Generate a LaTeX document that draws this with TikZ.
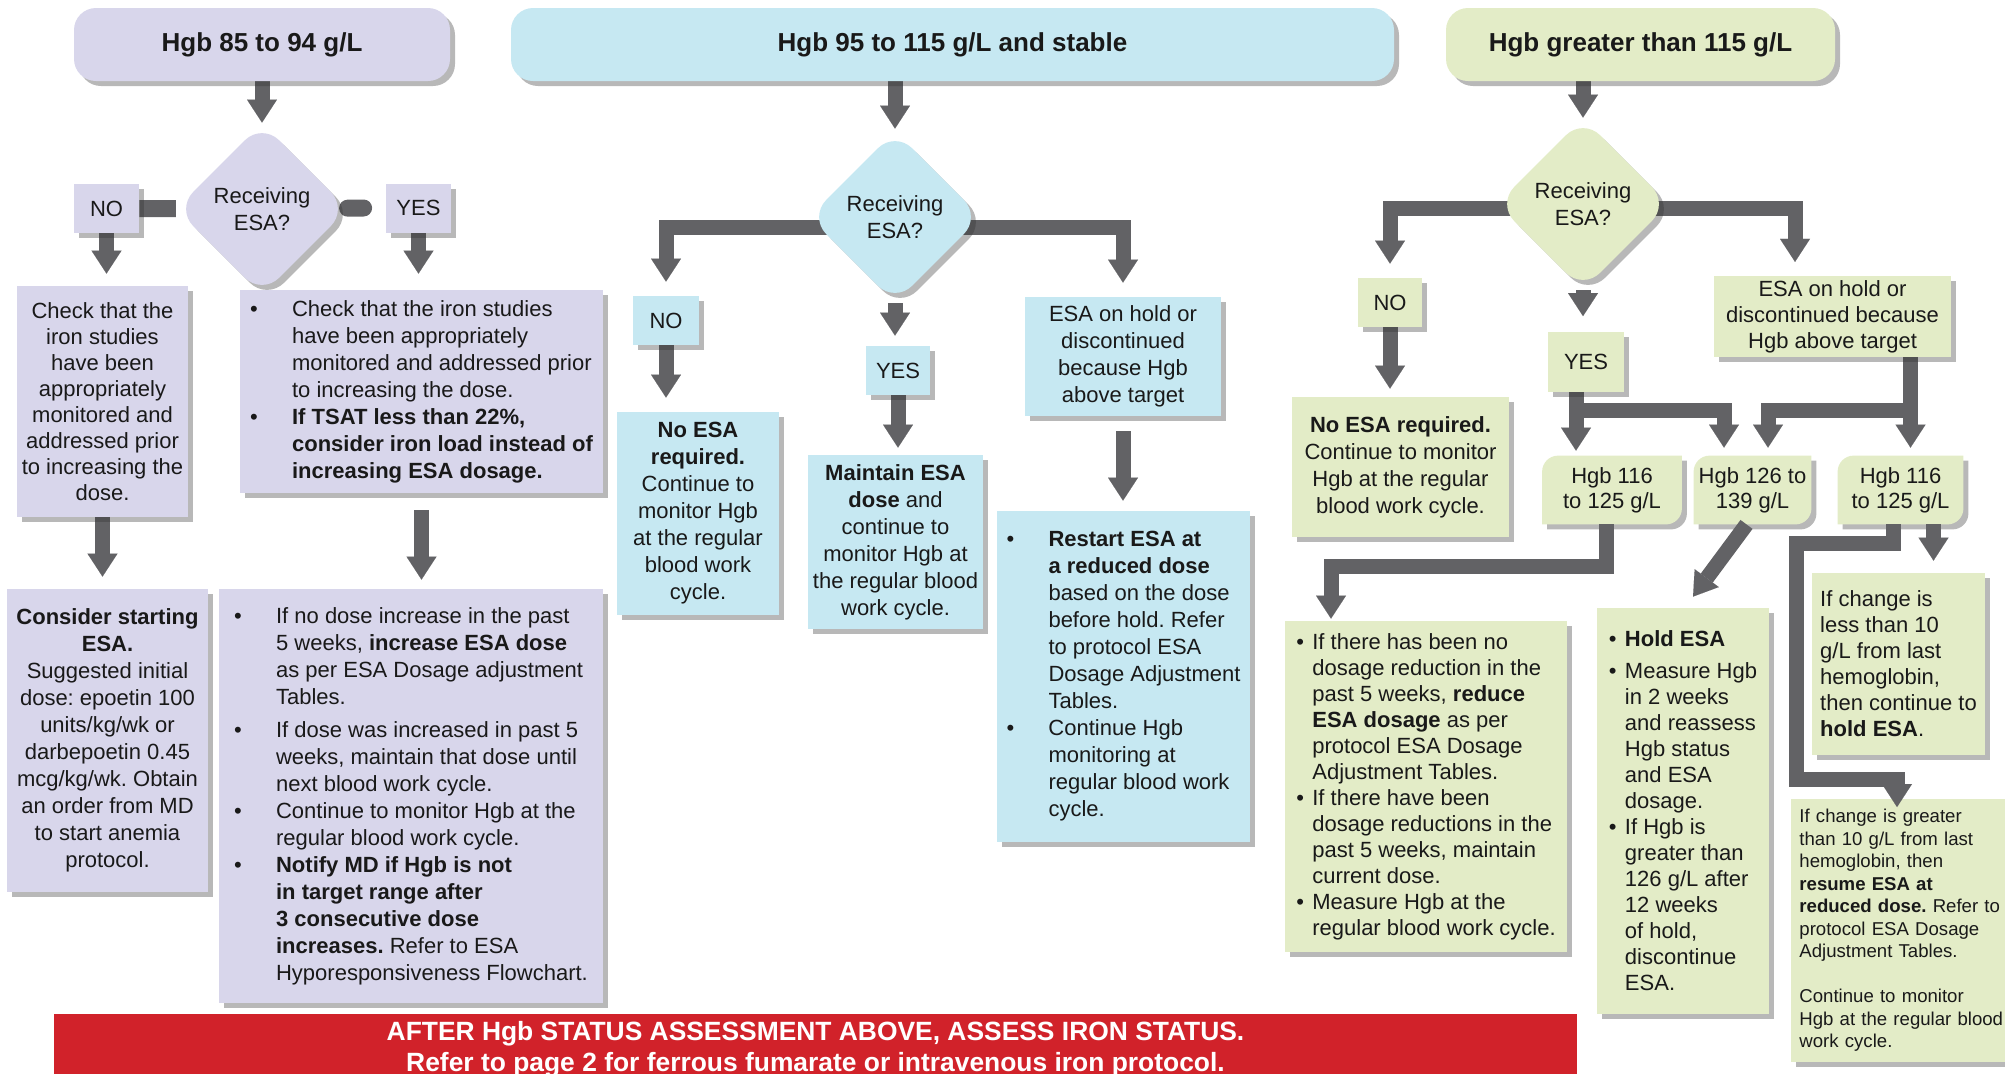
\documentclass[tikz,border=0pt]{standalone}
\usepackage{fontspec}
\setmainfont{Liberation Sans}
\usetikzlibrary{arrows.meta,shadows,backgrounds,shapes.geometric}
\frenchspacing

\definecolor{lav}{RGB}{216,214,235}
\definecolor{sky}{RGB}{198,232,242}
\definecolor{sage}{RGB}{227,236,199}
\definecolor{pipe}{RGB}{98,98,101}
\definecolor{alert}{RGB}{209,34,42}

\newcommand{\bigbul}{\makebox[21pt][l]{\textbullet}}
\newcommand{\bigind}{\hspace*{21pt}}
\newcommand{\smbul}{\makebox[8pt][l]{\textbullet}}
\newcommand{\smind}{\hspace*{8pt}}
\newcommand{\leafpath}[1]{([yshift=-8pt]#1.north west) arc[start angle=180, end angle=90, radius=8pt]
    -- (#1.north east) -- ([yshift=8pt]#1.south east) arc[start angle=0, end angle=-90, radius=8pt]
    -- (#1.south west) -- cycle}

\tikzset{
    shade/.style={drop shadow={shadow xshift=2.5pt, shadow yshift=-2.5pt, opacity=0.35, fill=black!80}},
    panel/.style={rectangle, inner sep=2pt, text=black!90, shade,
        font=\fontsize{11}{13.5}\selectfont},
    heading/.style={panel, rounded corners=11pt, minimum height=36.5pt,
        font=\bfseries\fontsize{13}{15}\selectfont},
    ask/.style={panel, diamond, aspect=1, minimum size=86pt, inner sep=0pt,
        rounded corners=12pt, align=center},
    choice/.style={panel, minimum height=24.5pt},
    hgbbox/.style={rectangle, inner sep=1pt, text=black!90, minimum height=34pt, align=center,
        font=\fontsize{11}{12.5}\selectfont},
    leaf/.style={fill=sage, shade},
    arr/.style={draw=pipe, line width=7.5pt,
        -{Triangle[width=15pt, length=11.5pt, line width=0.01pt]}},
    pipebar/.style={draw=pipe, line width=8.5pt}
}

\begin{document}
\begin{tikzpicture}[x=0.5pt, y=-0.5pt]
            \useasboundingbox (0, 0) rectangle (2005, 1073);
            \node[heading, fill=lav, minimum width=188pt] (t1) at (262, 44.5) {Hgb 85 to 94 g/L};
            \node[ask, fill=lav] (d1) at (262, 209) {Receiving\\ESA?};
            \node[choice, fill=lav, minimum width=32.5pt] (no1) at (106.5, 208.5) {NO};
            \node[choice, fill=lav, minimum width=32.5pt] (yes1) at (418.5, 208) {YES};
            \node[panel, fill=lav, minimum width=85.5pt, minimum height=115.5pt, align=center,
                font=\fontsize{11}{13}\selectfont] (a1) at (102.5, 401.5)
                {Check that the\\iron studies\\have been\\appropriately\\monitored and\\addressed prior\\to increasing the\\dose.};
            \node[panel, fill=lav, minimum width=181.5pt, minimum height=101.5pt, align=left] (b1) at (421.5, 391.5)
                {\bigbul Check that the iron studies\\
                 \bigind have been appropriately\\
                 \bigind monitored and addressed prior\\
                 \bigind to increasing the dose.\\
                 \bigbul \textbf{If TSAT less than 22\%,}\\
                 \bigind \textbf{consider iron load instead of}\\
                 \bigind \textbf{increasing ESA dosage.}};
            \node[panel, fill=lav, minimum width=100.5pt, minimum height=151.5pt, align=center] (c1) at (107.5, 740.5)
                {\textbf{Consider starting}\\\textbf{ESA.}\\Suggested initial\\dose: epoetin 100\\units/kg/wk or\\darbepoetin 0.45\\mcg/kg/wk. Obtain\\an order from MD\\to start anemia\\protocol.};
            \node[panel, fill=lav, minimum width=192pt, minimum height=207pt, align=left] (e1) at (411, 796)
                {\bigbul If no dose increase in the past\\
                 \bigind 5 weeks, \textbf{increase ESA dose}\\
                 \bigind as per ESA Dosage adjustment\\
                 \bigind Tables.\\[3pt]
                 \bigbul If dose was increased in past 5\\
                 \bigind weeks, maintain that dose until\\
                 \bigind next blood work cycle.\\
                 \bigbul Continue to monitor Hgb at the\\
                 \bigind regular blood work cycle.\\
                 \bigbul \textbf{Notify MD if Hgb is not}\\
                 \bigind \textbf{in target range after}\\
                 \bigind \textbf{3 consecutive dose}\\
                 \bigind \textbf{increases.} Refer to ESA\\
                 \bigind Hyporesponsiveness Flowchart.};
            \begin{pgfonlayer}{background}
                \draw[arr] (t1) -- (d1);
                \draw[pipebar] (no1) -- (d1);
                \draw[pipebar, line cap=round] (d1) -- ([xshift=-11pt]yes1.west);
                \draw[arr, shorten >=6pt] (no1) -- (no1 |- a1.north);
                \draw[arr, shorten >=8pt] (yes1) -- (yes1 |- b1.north);
                \draw[arr, shorten >=6pt] (a1) -- (a1 |- c1.north);
                \draw[arr, shorten <=8.5pt, shorten >=4.5pt] (b1) -- (b1 |- e1.north);
            \end{pgfonlayer}

            \node[heading, fill=sky, minimum width=441.5pt] (t2) at (952.5, 44.5) {Hgb 95 to 115 g/L and stable};
            \node[ask, fill=sky] (d2) at (895, 217) {Receiving\\ESA?};
            \node[choice, fill=sky, minimum width=33pt] (no2) at (666, 320.5) {NO};
            \node[choice, fill=sky, minimum width=32pt] (yes2) at (898, 370.5) {YES};
            \node[panel, fill=sky, minimum width=98pt, minimum height=59.5pt, align=center] (hold2) at (1123, 356.5)
                {ESA on hold or\\discontinued\\because Hgb\\above target};
            \node[panel, fill=sky, minimum width=81pt, minimum height=101.5pt, align=center] (noesa2) at (698, 513.5)
                {\textbf{No ESA}\\\textbf{required.}\\Continue to\\monitor Hgb\\at the regular\\blood work\\cycle.};
            \node[panel, fill=sky, minimum width=87.5pt, minimum height=87pt, align=center] (maint2) at (895.5, 542)
                {\textbf{Maintain ESA}\\\textbf{dose} and\\continue to\\monitor Hgb at\\the regular blood\\work cycle.};
            \node[panel, fill=sky, minimum width=126.5pt, minimum height=165.5pt, align=left] (rest2) at (1123.5, 676.5)
                {\bigbul \textbf{Restart ESA at}\\
                 \bigind \textbf{a reduced dose}\\
                 \bigind based on the dose\\
                 \bigind before hold. Refer\\
                 \bigind to protocol ESA\\
                 \bigind Dosage Adjustment\\
                 \bigind Tables.\\
                 \bigbul Continue Hgb\\
                 \bigind monitoring at\\
                 \bigind regular blood work\\
                 \bigind cycle.};
            \begin{pgfonlayer}{background}
                \draw[arr, shorten >=1pt] (d2.north |- t2.south) -- (d2);
                \draw[arr, shorten >=7pt] ([yshift=-5pt]d2.center) -| (no2.north);
                \draw[arr, shorten >=7pt] ([yshift=-5pt]d2.center) -| (hold2.north);
                \draw[arr, shorten >=5pt] (d2) -- (d2 |- yes2.north);
                \draw[arr, shorten >=7pt] (no2) -- (no2 |- noesa2.north);
                \draw[arr, shorten >=3.5pt] (yes2) -- (yes2 |- maint2.north);
                \draw[arr, shorten <=7.5pt, shorten >=5pt] (hold2) -- (hold2 |- rest2.north);
            \end{pgfonlayer}

            \node[heading, fill=sage, minimum width=194.5pt] (t3) at (1640.5, 44.5) {Hgb greater than 115 g/L};
            \node[ask, fill=sage] (d3) at (1583, 204) {Receiving\\ESA?};
            \node[choice, fill=sage, minimum width=32pt] (no3) at (1390, 302.5) {NO};
            \node[choice, fill=sage, minimum width=38pt, minimum height=30pt] (yes3) at (1586, 361.5) {YES};
            \node[panel, fill=sage, minimum width=118.5pt, minimum height=38.5pt, align=center,
                font=\fontsize{11}{13}\selectfont] (hold3) at (1832.5, 316.5)
                {ESA on hold or\\discontinued because\\Hgb above target};
            \node[panel, fill=sage, minimum width=108.5pt, minimum height=70pt, align=center] (noesa3) at (1400.5, 467)
                {\textbf{No ESA required.}\\Continue to monitor\\Hgb at the regular\\blood work cycle.};
            \node[hgbbox, minimum width=69.5pt] (l116) at (1612, 490) {Hgb 116\\to 125 g/L};
            \node[hgbbox, minimum width=58.5pt] (m126) at (1752.5, 490) {Hgb 126 to\\139 g/L};
            \node[hgbbox, minimum width=62.5pt] (r116) at (1900.5, 490) {Hgb 116\\to 125 g/L};
            \node[panel, fill=sage, minimum width=141pt, minimum height=165.5pt, align=left,
                font=\fontsize{11}{13}\selectfont] (red3) at (1426, 786.5)
                {\smbul If there has been no\\
                 \smind dosage reduction in the\\
                 \smind past 5 weeks, \textbf{reduce}\\
                 \smind \textbf{ESA dosage} as per\\
                 \smind protocol ESA Dosage\\
                 \smind Adjustment Tables.\\
                 \smbul If there have been\\
                 \smind dosage reductions in the\\
                 \smind past 5 weeks, maintain\\
                 \smind current dose.\\
                 \smbul Measure Hgb at the\\
                 \smind regular blood work cycle.};
            \node[panel, fill=sage, minimum width=86pt, minimum height=203pt, align=left,
                font=\fontsize{11}{13}\selectfont] (hold3b) at (1683, 811)
                {\smbul \textbf{Hold ESA}\\[3pt]
                 \smbul Measure Hgb\\
                 \smind in 2 weeks\\
                 \smind and reassess\\
                 \smind Hgb status\\
                 \smind and ESA\\
                 \smind dosage.\\
                 \smbul If Hgb is\\
                 \smind greater than\\
                 \smind 126 g/L after\\
                 \smind 12 weeks\\
                 \smind of hold,\\
                 \smind discontinue\\
                 \smind ESA.};
            \node[panel, fill=sage, minimum width=86.5pt, minimum height=91pt, align=left,
                font=\fontsize{11}{13}\selectfont] (less3) at (1898.5, 664)
                {If change is\\less than 10\\g/L from last\\hemoglobin,\\then continue to\\\textbf{hold ESA}.};
            \node[panel, fill=sage, anchor=north west, text width=103pt, inner xsep=4pt, inner ysep=5pt, align=left,
                font=\fontsize{9.3}{11.25}\selectfont] (gt3) at (1791, 799)
                {If change is greater\\than 10 g/L from last\\hemoglobin, then\\\textbf{resume ESA at}\\\textbf{reduced dose.} Refer to\\protocol ESA Dosage\\Adjustment Tables.\\[11.25pt]Continue to monitor\\Hgb at the regular blood\\work cycle.};
            \coordinate (y3) at ([xshift=-5pt]yes3.south);
            \coordinate (y3b) at (1724, 410);
            \coordinate (h3) at ([xshift=39pt]hold3.south);
            \coordinate (h3b) at (1768, 410);
            \coordinate (l3) at (1331, 566);
            \coordinate (r3) at ([xshift=16.5pt]r116.south);
            \coordinate (g3a) at (1796, 543);
            \coordinate (g3b) at (1897, 779);
            \begin{pgfonlayer}{background}
                \fill[leaf] \leafpath{l116};
                \fill[leaf] \leafpath{m126};
                \fill[leaf] \leafpath{r116};
                \draw[arr] (d3.north |- t3.south) -- (d3);
                \draw[arr, shorten >=7pt] ([yshift=-2pt]d3.center) -| (no3.north);
                \draw[arr, shorten >=7pt] ([yshift=-2pt]d3.center) -| ([xshift=-18.75pt]hold3.north);
                \draw[arr, shorten >=7.5pt] (d3) -- (d3 |- yes3.north);
                \draw[arr, shorten >=4pt] (no3) -- (no3 |- noesa3.north);
                \draw[arr, shorten >=2.5pt] (y3) -- (y3 |- l116.north);
                \draw[arr, shorten >=4pt] (y3) |- (y3b) -- (y3b |- m126.north);
                \draw[arr, shorten >=4pt] (h3) -- (h3 |- r116.north);
                \draw[arr, shorten >=4pt] (h3) |- (h3b) -- (h3b |- m126.north);
                \draw[arr, shorten >=1pt] ([xshift=-3pt]l116.south) |- (l3) -- (l3 |- red3.north);
                \draw[arr] ([xshift=-3pt]m126.south) -- ([xshift=5pt, yshift=5.5pt]hold3b.north);
                \draw[arr, shorten >=6pt] (r3) -- (r3 |- less3.north);
            \end{pgfonlayer}
            \draw[arr, shorten >=-4pt] ([xshift=-3.5pt]r116.south) |- (g3a) |- (g3b) -- (g3b |- gt3.north);

            \node[fill=alert, text=white, anchor=north, minimum width=761.5pt, minimum height=29pt, align=center,
                font=\bfseries\fontsize{13.2}{15.5}\selectfont] (iron) at (815.5, 1014)
                {AFTER Hgb STATUS ASSESSMENT ABOVE, ASSESS IRON STATUS.\\Refer to page 2 for ferrous fumarate or intravenous iron protocol.};
\end{tikzpicture}
\end{document}
